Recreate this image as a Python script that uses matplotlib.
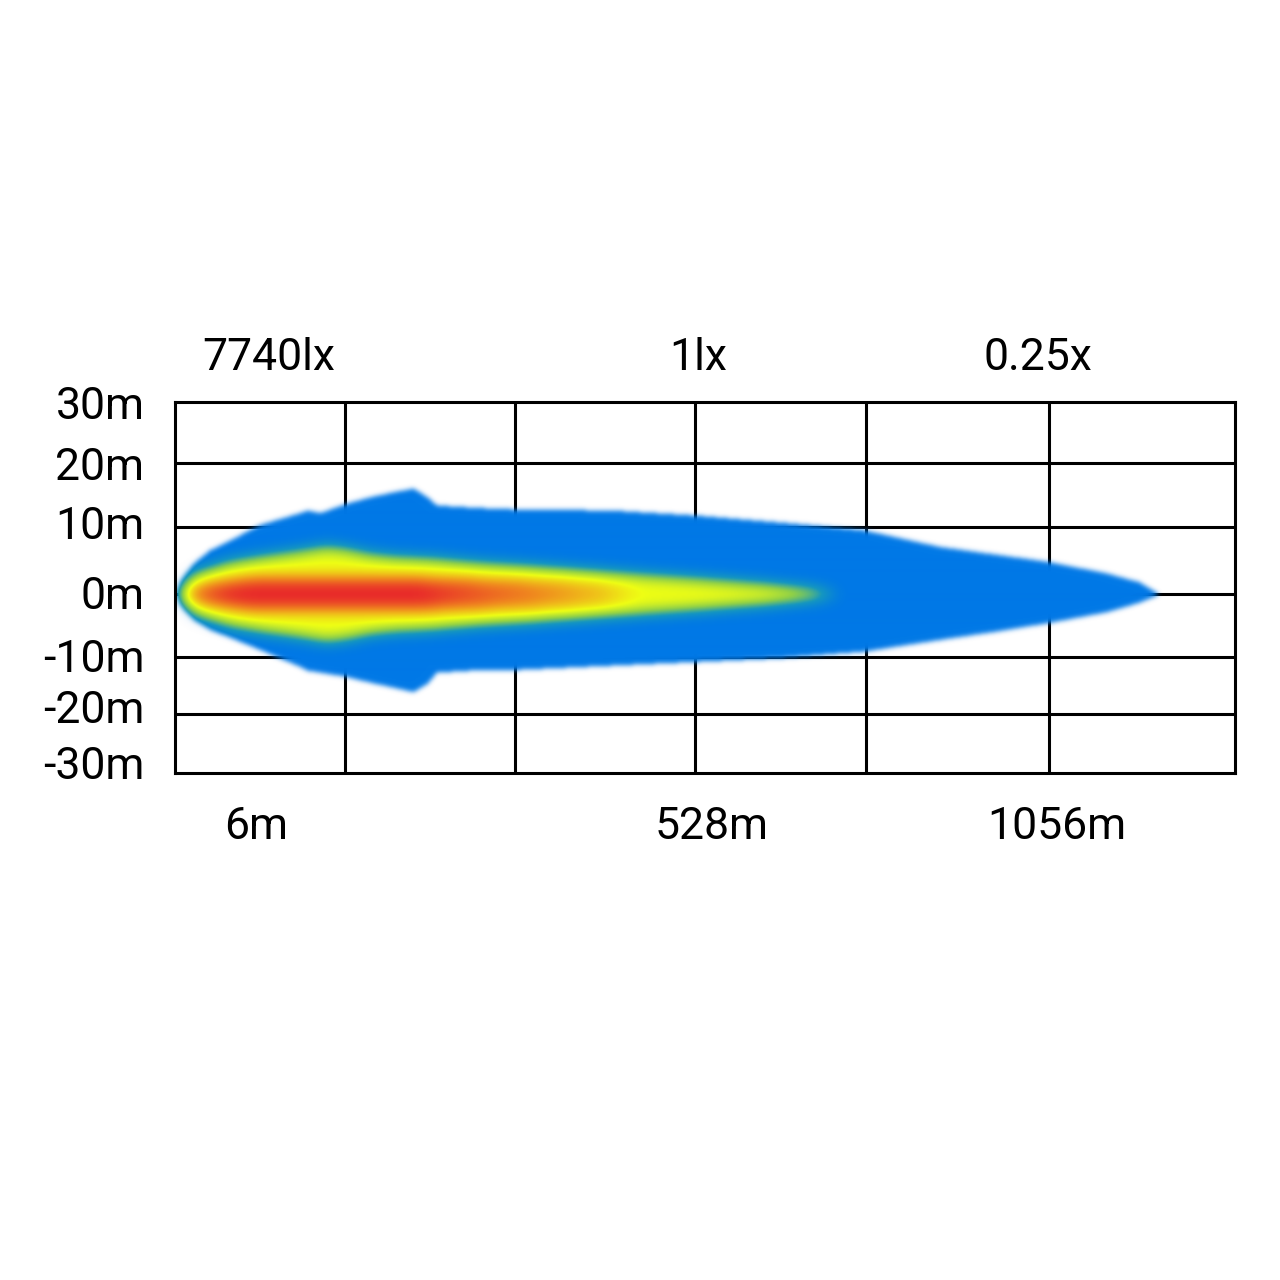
import numpy as np
import matplotlib
matplotlib.use('Agg')
import matplotlib.pyplot as plt
from matplotlib.colors import LinearSegmentedColormap

# beam outline: distance along the chart (% of width) and half-widths (m)
env_x = [0, 0.5, 1.7, 3.3, 5.7, 8.0, 11.8, 12.5, 13.7, 16.2, 18.4, 20.6, 22.5, 23.8,
         24.7, 28.8, 31.9, 41.3, 49.2, 57.1, 64.9, 72.2, 77.8, 82.5, 87.9, 91.0, 92.6, 92.9]
env_top = [0, 2.2, 4.8, 7.0, 9.0, 11.0, 12.9, 13.3, 12.9, 14.4, 15.4, 16.2, 16.8, 15.4,
           14.1, 13.7, 13.5, 13.3, 12.5, 11.4, 10.2, 7.5, 6.2, 5.1, 3.3, 1.9, 0.3, 0]
env_bot = [0, 1.9, 4.1, 5.7, 7.3, 8.9, 11.6, 12.2, 12.5, 13.2, 14.1, 14.9, 15.6, 14.3,
           12.5, 12.1, 12.1, 11.4, 10.8, 10.2, 9.2, 7.3, 5.9, 4.6, 2.9, 1.4, 0.3, 0]

# yellow core
core_x = [0.3, 0.9, 1.7, 5.2, 8.0, 11.8, 14.3, 16.2, 18.4, 20.6, 24.1, 28.8, 33.5,
          42.9, 49.5, 55.5, 59.9, 62.7]
core_hw = [0, 1.6, 3.2, 5.1, 5.9, 6.8, 7.5, 7.1, 6.3, 5.9, 5.6, 4.9, 4.4,
           3.2, 2.4, 1.6, 0.8, 0]

# hot centre (red -> orange)
hot_x = [0.9, 3.3, 7.1, 23.6, 35.8, 43.4, 48.1]
hot_hw = [0.5, 1.6, 2.4, 2.4, 2.0, 1.6, 1.0]
heat_x = [0.9, 2.4, 5.2, 23.1, 27.8, 34.4, 40.1, 43.9]
heat_v = [0.5, 0.8, 1.0, 1.0, 0.8, 0.55, 0.3, 0.0]

y_ticks = [30.5, 20.8, 11.4, 0.3, -9.7, -17.8, -26.8]
y_labels = ['30m', '20m', '10m', '0m', '-10m', '-20m', '-30m']
h_lines = [20.8, 10.6, 0, -10.0, -19.0]
v_lines = [16.0, 32.1, 49.1, 65.2, 82.5]

top_x = [8.8, 49.4, 81.4]
top_labels = ['7740lx', '1lx', '0.25x']
bottom_x = [7.7, 50.6, 83.2]
bottom_labels = ['6m', '528m', '1056m']

y_min, y_max = -28.4, 30.5

plt.rcParams['font.family'] = ['Roboto', 'DejaVu Sans']


def blur(a, sigma):
    r = int(3 * sigma)
    k = np.exp(-0.5 * (np.arange(-r, r + 1) / sigma) ** 2)
    k /= k.sum()
    a = np.apply_along_axis(lambda m: np.convolve(m, k, mode='same'), 0, a)
    a = np.apply_along_axis(lambda m: np.convolve(m, k, mode='same'), 1, a)
    return a


nx, ny = 1060, 372
xs = np.linspace(0, 100, nx)
ys = np.linspace(y_max, y_min, ny)
X, Y = np.meshgrid(xs, ys)

top = np.interp(xs, env_x, env_top, right=0)
bot = np.interp(xs, env_x, env_bot, right=0)
env = ((Y < top) & (Y > -bot)).astype(float)

chw = np.interp(xs, core_x, core_hw, left=0, right=0)
core = (np.abs(Y) < chw).astype(float)

hhw = np.interp(xs, hot_x, hot_hw, left=0, right=0)
heat = np.interp(xs, heat_x, heat_v, left=0, right=0)
hot = (np.abs(Y) < hhw).astype(float) * heat

env_b = blur(env, 2.4)
core_b = blur(core, 7.5)
hot_b = blur(hot, 8)

v = np.clip(0.5 * core_b + 0.5 * hot_b, 0, 1)
cmap = LinearSegmentedColormap.from_list('beam', [
    (0.0, '#0078e6'), (0.15, '#1596c0'), (0.32, '#8fd048'), (0.5, '#eefe14'),
    (0.75, '#f08c1e'), (1.0, '#e8232b')])
rgba = cmap(v)
rgba[..., 3] = np.clip(env_b + 0.5 * core_b, 0, 1)

fig = plt.figure(figsize=(12.8, 12.8), dpi=100)
ax = fig.add_axes([0.1367, 0.3961, 0.8281, 0.2898])
ax.set_xlim(0, 100)
ax.set_ylim(y_min, y_max)

for x in v_lines:
    ax.axvline(x, color='black', lw=2.2, zorder=1)
for y in h_lines:
    ax.axhline(y, color='black', lw=2.2, zorder=1)

ax.imshow(rgba, extent=(0, 100, y_min, y_max), origin='upper', aspect='auto',
          interpolation='bilinear', zorder=2)

for s in ax.spines.values():
    s.set_linewidth(2.2)
    s.set_zorder(3)

ax.set_xticks([])
ax.set_yticks(y_ticks, y_labels)
ax.tick_params(axis='y', length=0, pad=22, labelsize=32)

for x, t in zip(top_x, top_labels):
    ax.text(x, 37.5, t, ha='center', va='center', fontsize=32, clip_on=False)
for x, t in zip(bottom_x, bottom_labels):
    ax.text(x, -37.0, t, ha='center', va='center', fontsize=32, clip_on=False)

fig.savefig('out.png', dpi=100)
